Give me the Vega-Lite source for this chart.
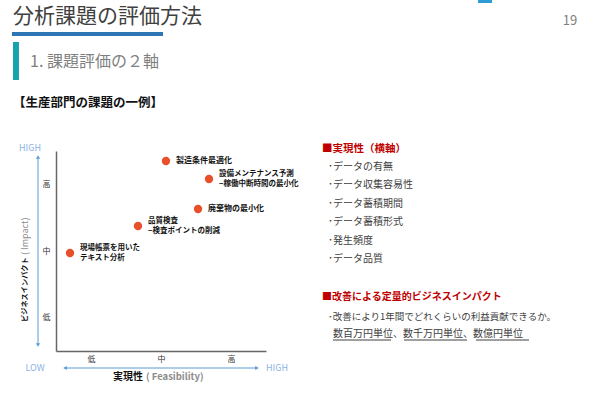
{
  "$schema": "https://vega.github.io/schema/vega-lite/v6.json",
  "width": 210,
  "height": 200,
  "autosize": {"type": "none"},
  "padding": {"left": 56, "top": 151, "right": 334, "bottom": 49},
  "background": "white",
  "config": {
    "view": {"stroke": null},
    "font": "Noto Sans CJK JP",
    "text": {"font": "Noto Sans CJK JP"}
  },
  "layer": [
    {
      "data": {"values": [
        {"task": "製造条件最適化", "feasibility": 1.571, "impact": 2.85},
        {"task": "設備メンテナンス予測\n−稼働中断時間の最小化", "feasibility": 2.186, "impact": 2.58},
        {"task": "廃棄物の最小化", "feasibility": 2.029, "impact": 2.13},
        {"task": "品質検査\n−検査ポイントの削減", "feasibility": 1.171, "impact": 1.875},
        {"task": "現場帳票を用いた\nテキスト分析", "feasibility": 0.2, "impact": 1.47}
      ]},
      "layer": [
        {
          "mark": {"type": "point", "filled": true, "size": 70, "color": "#e8502a", "opacity": 1},
          "encoding": {
            "x": {"field": "feasibility", "type": "quantitative",
              "scale": {"domain": [0, 3], "nice": false, "zero": false},
              "axis": {"title": null, "values": [0.5, 1.5, 2.5], "grid": false, "ticks": false,
                "domainColor": "#666666", "domainWidth": 1.5,
                "labelExpr": "datum.value == 0.5 ? '低' : datum.value == 1.5 ? '中' : '高'",
                "labelFontSize": 8, "labelColor": "#333333", "labelPadding": 4, "labelFont": "Noto Sans CJK JP"}},
            "y": {"field": "impact", "type": "quantitative",
              "scale": {"domain": [0, 3], "nice": false, "zero": false},
              "axis": {"title": null, "values": [0.5, 1.5, 2.5], "grid": false, "ticks": false,
                "domainColor": "#666666", "domainWidth": 1.5,
                "labelExpr": "datum.value == 0.5 ? '低' : datum.value == 1.5 ? '中' : '高'",
                "labelFontSize": 8, "labelColor": "#333333", "labelPadding": 6, "labelFont": "Noto Sans CJK JP"}}
          }
        },
        {
          "transform": [{"filter": "indexof(datum.task, '\\n') < 0"}],
          "mark": {"type": "text", "align": "left", "baseline": "middle", "dx": 10, "fontSize": 8, "fontWeight": "bold", "color": "#111111"},
          "encoding": {
            "x": {"field": "feasibility", "type": "quantitative"},
            "y": {"field": "impact", "type": "quantitative"},
            "text": {"field": "task"}
          }
        },
        {
          "transform": [{"filter": "indexof(datum.task, '\\n') >= 0"}],
          "mark": {"type": "text", "align": "left", "baseline": "middle", "dx": 10, "dy": -5, "fontSize": 7.5, "fontWeight": "bold", "lineBreak": "\n", "lineHeight": 10, "color": "#111111"},
          "encoding": {
            "x": {"field": "feasibility", "type": "quantitative"},
            "y": {"field": "impact", "type": "quantitative"},
            "text": {"field": "task"}
          }
        }
      ]
    },
    {
      "data": {"values": [{}]},
      "layer": [
        {"mark": {"type": "text", "text": "分析課題の評価方法", "align": "left", "baseline": "middle", "fontSize": 21, "color": "#404040"},
         "encoding": {"x": {"datum": -0.614}, "y": {"datum": 5.0175}}},
        {"mark": {"type": "rect", "color": "#2e75b6"},
         "encoding": {"x": {"datum": -0.629}, "x2": {"datum": 1.529}, "y": {"datum": 4.785}, "y2": {"datum": 4.725}}},
        {"mark": {"type": "rect", "color": "#2e9bd6"},
         "encoding": {"x": {"datum": 6.029}, "x2": {"datum": 6.229}, "y": {"datum": 5.265}, "y2": {"datum": 5.22}}},
        {"mark": {"type": "rect", "color": "#17a2b0"},
         "encoding": {"x": {"datum": -0.614}, "x2": {"datum": -0.529}, "y": {"datum": 4.635}, "y2": {"datum": 4.065}}},
        {"mark": {"type": "text", "text": "1. 課題評価の２軸", "align": "left", "baseline": "middle", "fontSize": 16, "color": "#7f7f7f"},
         "encoding": {"x": {"datum": -0.371}, "y": {"datum": 4.335}}},
        {"mark": {"type": "text", "text": "19", "align": "center", "baseline": "middle", "fontSize": 13, "color": "#7f7f7f"},
         "encoding": {"x": {"datum": 7.343}, "y": {"datum": 4.95}}},
        {"mark": {"type": "text", "text": "【生産部門の課題の一例】", "align": "left", "baseline": "middle", "fontSize": 12.5, "fontWeight": "bold", "color": "#111111"},
         "encoding": {"x": {"datum": -0.614}, "y": {"datum": 3.72}}},
        {"mark": {"type": "text", "text": "■実現性（横軸）", "align": "left", "baseline": "middle", "fontSize": 10.5, "fontWeight": "bold", "color": "#c00000"},
         "encoding": {"x": {"datum": 3.8}, "y": {"datum": 3.03}}},
        {"mark": {"type": "text", "text": "･データの有無\n･データ収集容易性\n･データ蓄積期間\n･データ蓄積形式\n･発生頻度\n･データ品質", "lineBreak": "\n", "lineHeight": 18.4, "align": "left", "baseline": "middle", "fontSize": 10, "color": "#404040"},
         "encoding": {"x": {"datum": 3.886}, "y": {"datum": 2.76}}},
        {"mark": {"type": "text", "text": "■改善による定量的ビジネスインパクト", "align": "left", "baseline": "middle", "fontSize": 10, "fontWeight": "bold", "color": "#c00000"},
         "encoding": {"x": {"datum": 3.8}, "y": {"datum": 0.81}}},
        {"mark": {"type": "text", "text": "･改善により1年間でどれくらいの利益貢献できるか。", "align": "left", "baseline": "middle", "fontSize": 9.5, "color": "#404040"},
         "encoding": {"x": {"datum": 3.886}, "y": {"datum": 0.51}}},
        {"mark": {"type": "text", "text": "数百万円単位、数千万円単位、数億円単位", "align": "left", "baseline": "middle", "fontSize": 10, "color": "#404040"},
         "encoding": {"x": {"datum": 3.957}, "y": {"datum": 0.255}}},
        {"mark": {"type": "rule", "color": "#404040", "strokeWidth": 1},
         "encoding": {"x": {"datum": 3.957}, "x2": {"datum": 4.786}, "y": {"datum": 0.165}}},
        {"mark": {"type": "rule", "color": "#404040", "strokeWidth": 1},
         "encoding": {"x": {"datum": 4.971}, "x2": {"datum": 5.871}, "y": {"datum": 0.165}}},
        {"mark": {"type": "rule", "color": "#404040", "strokeWidth": 1},
         "encoding": {"x": {"datum": 6.0}, "x2": {"datum": 6.757}, "y": {"datum": 0.165}}},
        {"mark": {"type": "rule", "color": "#5b9bd5", "strokeWidth": 1},
         "encoding": {"x": {"datum": -0.257}, "y": {"datum": 2.91}, "y2": {"datum": 0.09}}},
        {"mark": {"type": "rule", "color": "#5b9bd5", "strokeWidth": 1},
         "encoding": {"x": {"datum": 0.129}, "x2": {"datum": 2.871}, "y": {"datum": -0.255}}},
        {"mark": {"type": "point", "shape": "triangle-up", "filled": true, "size": 18, "color": "#5b9bd5", "opacity": 1},
         "encoding": {"x": {"datum": -0.257}, "y": {"datum": 2.91}}},
        {"mark": {"type": "point", "shape": "triangle-down", "filled": true, "size": 18, "color": "#5b9bd5", "opacity": 1},
         "encoding": {"x": {"datum": -0.257}, "y": {"datum": 0.09}}},
        {"mark": {"type": "point", "shape": "triangle-left", "filled": true, "size": 18, "color": "#5b9bd5", "opacity": 1},
         "encoding": {"x": {"datum": 0.129}, "y": {"datum": -0.255}}},
        {"mark": {"type": "point", "shape": "triangle-right", "filled": true, "size": 18, "color": "#5b9bd5", "opacity": 1},
         "encoding": {"x": {"datum": 2.871}, "y": {"datum": -0.255}}},
        {"mark": {"type": "text", "text": "HIGH", "align": "center", "baseline": "middle", "fontSize": 9, "color": "#8db3e2"},
         "encoding": {"x": {"datum": -0.371}, "y": {"datum": 3.045}}},
        {"mark": {"type": "text", "text": "LOW", "align": "center", "baseline": "middle", "fontSize": 9, "color": "#8db3e2"},
         "encoding": {"x": {"datum": -0.3}, "y": {"datum": -0.255}}},
        {"mark": {"type": "text", "text": "HIGH", "align": "center", "baseline": "middle", "fontSize": 9, "color": "#8db3e2"},
         "encoding": {"x": {"datum": 3.157}, "y": {"datum": -0.255}}},
        {"mark": {"type": "text", "text": "実現性", "align": "left", "baseline": "middle", "fontSize": 10, "fontWeight": "bold", "color": "#111111"},
         "encoding": {"x": {"datum": 0.814}, "y": {"datum": -0.39}}},
        {"mark": {"type": "text", "text": "( Feasibility)", "align": "left", "baseline": "middle", "fontSize": 9.5, "fontWeight": "bold", "color": "#8c8c8c"},
         "encoding": {"x": {"datum": 1.286}, "y": {"datum": -0.39}}},
        {"mark": {"type": "text", "text": "ビジネスインパクト", "angle": 270, "align": "left", "baseline": "middle", "fontSize": 7.2, "fontWeight": "bold", "color": "#111111"},
         "encoding": {"x": {"datum": -0.443}, "y": {"datum": 0.435}}},
        {"mark": {"type": "text", "text": "( Impact)", "angle": 270, "align": "left", "baseline": "middle", "fontSize": 9, "color": "#8c8c8c"},
         "encoding": {"x": {"datum": -0.443}, "y": {"datum": 1.44}}}
      ]
    }
  ]
}
